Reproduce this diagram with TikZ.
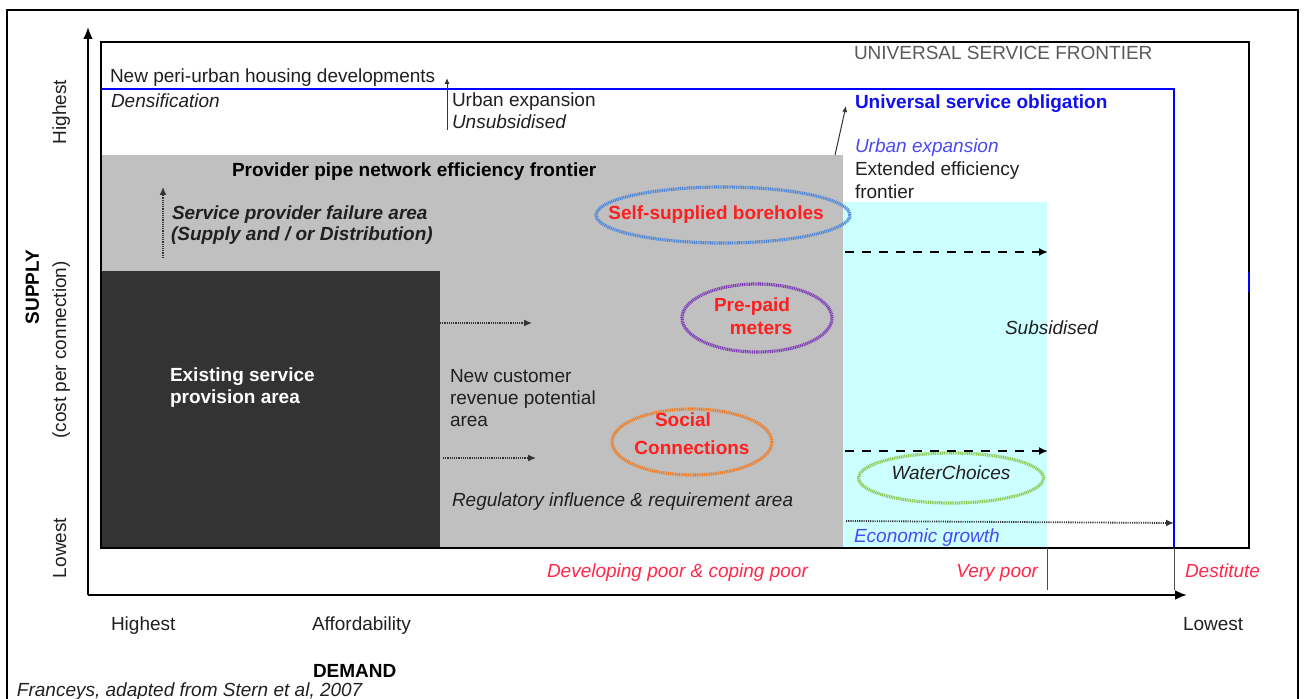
\documentclass[tikz,border=0pt]{standalone}
\usepackage{fontspec}
\setmainfont{Liberation Sans}
\usetikzlibrary{arrows.meta,shapes.geometric}

\definecolor{panelgray}{HTML}{C0C0C0}
\definecolor{coredark}{HTML}{333333}
\definecolor{subsidycyan}{HTML}{CCFFFF}
\definecolor{usoblue}{HTML}{1010F0}
\definecolor{ovalred}{HTML}{FF1F1F}
\definecolor{poorred}{HTML}{FF2848}
\definecolor{frontiergray}{HTML}{5A5A5A}
\definecolor{inktext}{HTML}{202020}
\definecolor{ringblue}{HTML}{4F88DA}
\definecolor{ringpurple}{HTML}{7E3CB8}
\definecolor{ringorange}{HTML}{EE7E2A}
\definecolor{ringgreen}{HTML}{8FCB55}
\definecolor{expblue}{HTML}{4A4AF5}

\begin{document}
\begin{tikzpicture}[x=0.5pt,y=-0.5pt,
  every node/.style={inner sep=0pt, outer sep=0pt, text=inktext,
    font=\fontsize{9.5}{11}\selectfont},
  lbl/.style={anchor=base west},
  lblc/.style={anchor=base},
  bf/.style={font=\fontsize{9.5}{11}\selectfont\bfseries},
  itl/.style={font=\fontsize{9.5}{11}\selectfont\itshape},
  bfit/.style={font=\fontsize{9.5}{11}\selectfont\bfseries\itshape},
  vlabel/.style={rotate=90, anchor=base},
  ring/.style={ellipse, draw=#1, line width=1.6pt, dash pattern=on 0.55pt off 0.35pt},
  boxline/.style={draw=black, line width=1pt},
  axisline/.style={draw=black, line width=1.3pt, -{Latex[length=6pt,width=5pt]}},
  dotarrow/.style={draw=black!80, line width=0.7pt, dash pattern=on 0.55pt off 0.55pt, -{Latex[length=4pt,width=3.5pt]}},
  dasharrow/.style={draw=black, line width=1.2pt, dash pattern=on 4.5pt off 4pt, -{Latex[length=4.5pt,width=4pt]}},
  thinarrow/.style={draw=black!80, line width=0.5pt, -{Latex[length=3pt,width=2.5pt]}},
  gridtick/.style={draw=black!70, line width=0.5pt},
  usoline/.style={draw=blue, line width=0.8pt},
]
\useasboundingbox (0,0) rectangle (1304,699);

% outer frame
\draw[boxline] (7,699) -- (7,10) -- (1298,10) -- (1298,699);

% shaded areas
\fill[panelgray] (101,155) rectangle (843,548);
\fill[coredark] (101,271) rectangle (440,548);
\fill[subsidycyan] (843,202) rectangle (1047,548);

% universal service obligation line and inner frame
\draw[usoline] (101,89) -- (1174,89) -- (1174,548);
\draw[boxline] (101,42) rectangle (1249,548);
\draw[usoline] (1249,272) -- (1249,292);
\draw[gridtick] (1047,548) -- (1047,590);
\draw[gridtick] (1174,548) -- (1174,590);

% axes
\coordinate (origin) at (88,595);
\coordinate (ytop) at (88,27);
\coordinate (xend) at (1187,595);
\draw[axisline] (origin) -- (ytop);
\draw[axisline] (origin) -- (xend);

% rings
\node[ring=ringblue, minimum width=127pt, minimum height=28pt] (boreRing) at (723,215) {};
\node[ring=ringpurple, minimum width=75pt, minimum height=34pt] (meterRing) at (757,318) {};
\node[ring=ringorange, minimum width=80pt, minimum height=33pt] (socialRing) at (692,442) {};
\node[ring=ringgreen, minimum width=92.5pt, minimum height=25pt] (waterRing) at (951,478) {};

% small arrows
\coordinate (ueFoot) at (447,130);
\coordinate (ueTip) at (447,78);
\draw[thinarrow] (ueFoot) -- (ueTip);
\coordinate (usoFoot) at (835,155);
\coordinate (usoTip) at (846,106);
\draw[thinarrow] (usoFoot) -- (usoTip);
\coordinate (failFoot) at (163,258);
\coordinate (failTip) at (163,187);
\draw[dotarrow] (failFoot) -- (failTip);
\coordinate (revA0) at (440,323);
\coordinate (revA1) at (532,323);
\draw[dotarrow] (revA0) -- (revA1);
\coordinate (revB0) at (443,458);
\coordinate (revB1) at (536,458);
\draw[dotarrow] (revB0) -- (revB1);
\coordinate (subA0) at (845,252);
\coordinate (subA1) at (1048,252);
\draw[dasharrow] (subA0) -- (subA1);
\coordinate (subB0) at (845,451);
\coordinate (subB1) at (1048,451);
\draw[dasharrow] (subB0) -- (subB1);
\coordinate (eco0) at (846,521);
\coordinate (eco1) at (1174,523);
\draw[dotarrow, line width=0.9pt] (eco0) -- (eco1);

% texts in the upper band
\node[lbl] (peri) at (110,83) {New peri-urban housing developments};
\node[lbl,itl] (dens) at (111,108) {Densification};
\node[lbl] (uexp) at (452,107) {Urban expansion};
\node[lbl,itl] (unsub) at (452,129) {Unsubsidised};
\node[lbl,text=frontiergray] (usf) at (854,60) {UNIVERSAL SERVICE FRONTIER};
\node[lbl,bf,text=usoblue] (uso) at (855,109) {Universal service obligation};
\node[lbl,itl,text=expblue] (uexp2) at (855,153) {Urban expansion};
\node[lbl] (ext1) at (855,176) {Extended efficiency};
\node[lbl] (ext2) at (855,199) {frontier};

% texts in the provider area
\node[lbl,bf,text=black] (ppnef) at (232,177) {Provider pipe network efficiency frontier};
\node[lbl,bfit] (fail1) at (172,220) {Service provider failure area};
\node[lbl,bfit] (fail2) at (171,241) {(Supply and / or Distribution)};
\node[lbl,bf,text=white] (exist1) at (170,382) {Existing service};
\node[lbl,bf,text=white] (exist2) at (170,404) {provision area};
\node[lbl] (newc1) at (450,383) {New customer};
\node[lbl] (newc2) at (450,405) {revenue potential};
\node[lbl] (newc3) at (450,427) {area};
\node[lbl,itl] (reg) at (452,506) {Regulatory influence \& requirement area};

% ring labels
\node[lblc,bf,text=ovalred] (bore) at (716,220) {Self-supplied boreholes};
\node[lblc,bf,text=ovalred] (meter1) at (752,312) {Pre-paid};
\node[lblc,bf,text=ovalred] (meter2) at (761,335) {meters};
\node[lblc,bf,text=ovalred] (social1) at (683,427) {Social};
\node[lblc,bf,text=ovalred] (social2) at (692,454) {Connections};
\node[lblc,itl] (water) at (951,479) {WaterChoices};
\node[lbl,itl] (subs) at (1005,335) {Subsidised};
\node[lbl,itl,text=expblue] (eco) at (854,542) {Economic growth};

% demand groups
\node[lbl,itl,text=poorred] (devpoor) at (547,577) {Developing poor \& coping poor};
\node[anchor=base east,itl,text=poorred] (verypoor) at (1038,577) {Very poor};
\node[lbl,itl,text=poorred] (destitute) at (1185,577) {Destitute};

% axis labels
\node[lbl] (xhi) at (111,630) {Highest};
\node[lbl] (afford) at (312,630) {Affordability};
\node[lbl] (xlo) at (1183,630) {Lowest};
\node[lbl,bf,text=black] (demand) at (313,677) {DEMAND};
\node[vlabel] (yhi) at (66,112) {Highest};
\node[vlabel,bf,text=black] (supply) at (39,287) {SUPPLY};
\node[vlabel] (cost) at (66,350) {(cost per connection)};
\node[vlabel] (ylo) at (66,548) {Lowest};

% source note
\node[lbl,itl] (source) at (17,696) {Franceys, adapted from Stern et al, 2007};
\end{tikzpicture}
\end{document}
